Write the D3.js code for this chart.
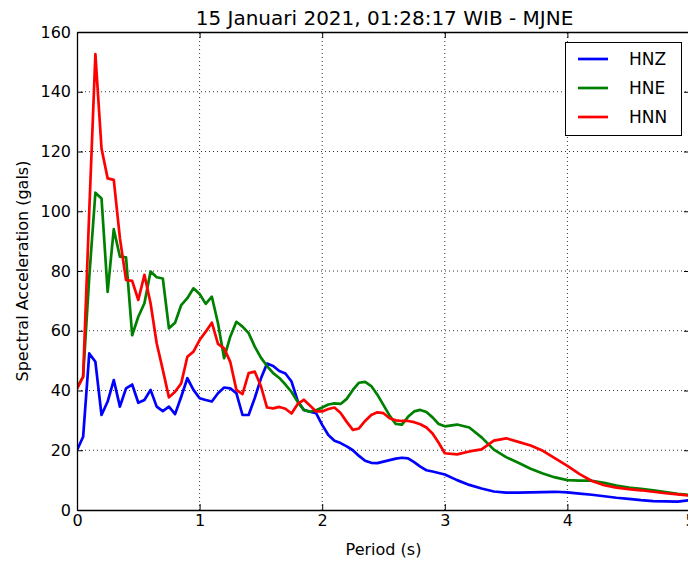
<!DOCTYPE html>
<html>
<head>
<meta charset="utf-8">
<script src="https://cdn.jsdelivr.net/npm/d3@7"></script>
<style>
  body { margin: 0; background: #fff; }
  svg { display: block; font-family: "DejaVu Sans", sans-serif; }
</style>
</head>
<body>
<script>
var W = 688, H = 561;
var margin = { top: 32, right: -2, bottom: 51, left: 77 };

// periods (s)
var periods = [
  0, 0.05, 0.1, 0.15, 0.2, 0.25, 0.3, 0.35, 0.4, 0.45,
  0.5, 0.55, 0.6, 0.65, 0.7, 0.75, 0.8, 0.85, 0.9, 0.95,
  1.0, 1.05, 1.1, 1.15, 1.2, 1.25, 1.3, 1.35, 1.4, 1.45,
  1.5, 1.55, 1.6, 1.65, 1.7, 1.75, 1.8, 1.85, 1.9, 1.95,
  2.0, 2.05, 2.1, 2.15, 2.2, 2.25, 2.3, 2.35, 2.4, 2.45,
  2.5, 2.55, 2.6, 2.65, 2.7, 2.75, 2.8, 2.85, 2.9, 2.95,
  3.0,
  3.1, 3.2, 3.3, 3.4, 3.5, 3.6, 3.7, 3.8, 3.9, 4.0,
  4.1, 4.2, 4.3, 4.4, 4.5, 4.6, 4.7, 4.8, 4.9, 5.0
];

var hnz = [
  20, 24.5, 52.4, 49.6, 31.8, 36.3, 43.5, 34.6, 40.7, 42,
  35.9, 36.8, 40.2, 34.6, 33.1, 34.6, 32.1, 37.9, 44.1, 40.2,
  37.4, 36.8, 36.3, 39.1, 41, 40.7, 39.1, 31.8, 31.8, 37.5,
  44, 49, 48.2, 46.5, 45.7, 43, 36.5, 33.5, 32.9, 32.4,
  28.5, 25.1, 23.2, 22.4, 21.3, 20, 18.1, 16.5, 15.8, 15.7,
  16.2, 16.7, 17.2, 17.5, 17.3, 16, 14.5, 13.3, 12.9, 12.4,
  11.9,
  10.0, 8.4, 7.2, 6.2, 5.8, 5.8, 5.9, 6.0, 6.1, 5.9,
  5.5, 5.1, 4.6, 4.1, 3.7, 3.3, 3.0, 2.9, 2.8, 3.3
];

var hne = [
  41, 44.6, 78, 106.2, 104.3, 73, 94, 84.8, 84.6, 58.5,
  64.7, 69.2, 79.8, 77.9, 77.5, 60.8, 62.7, 68.6, 70.9, 74.2,
  72.3, 69, 71.4, 62.5, 50.8, 58, 63, 61.4, 59.2, 54.7,
  51, 48.2, 45.8, 44.2, 42, 39.5, 36.2, 33.5, 32.9, 33.4,
  34.3, 35.3, 35.7, 35.5, 37.2, 40.2, 42.6, 42.9, 41.5, 38.6,
  35.1, 31.6, 28.8, 28.6, 31.2, 33, 33.5, 32.8, 31, 28.8,
  28.0,
  28.6, 27.6, 24.3, 20.2, 17.7, 15.8, 13.8, 12.2, 10.9, 10.0,
  9.8, 9.8, 9.1, 8.2, 7.5, 7.1, 6.6, 6.0, 5.4, 5.0
];

var hnn = [
  40.5, 44.6, 100, 152.6, 121, 111, 110.5, 91, 77, 76.7,
  70.3, 78.7, 69.2, 55.8, 46.9, 37.7, 39.6, 42.4, 51.3, 53,
  56.9, 59.7, 62.7, 55.6, 54.1, 49.6, 40.2, 38.8, 45.8, 46.3,
  41.5, 34.3, 34, 34.5, 33.9, 32.3, 35.5, 36.9, 35, 33,
  33, 33.8, 34.3, 32.5, 29.5, 26.8, 27.3, 29.8, 31.8, 32.7,
  32.4, 30.7, 30, 29.8, 29.8, 29.4, 28.7, 27.6, 25.6, 22.5,
  19,
  18.6, 19.6, 20.3, 23.2, 24, 22.8, 21.6, 19.8, 17.3, 14.8,
  12, 9.7, 8.3, 7.5, 7, 6.6, 6.1, 5.6, 5.2, 4.8
];

var seriesNames = ["HNZ", "HNE", "HNN"];
var seriesColors = ["#0000ff", "#008000", "#ff0000"];
var xTicks = [0, 1, 2, 3, 4, 5];
var yTicks = [0, 20, 40, 60, 80, 100, 120, 140, 160];
var title = "15 Januari 2021, 01:28:17 WIB - MJNE";

var series = [hnz, hne, hnn];

var x0 = margin.left, x1 = W - margin.right;
var y0 = H - margin.bottom, y1 = margin.top;

var x = d3.scaleLinear().domain([0, 5]).range([x0, x1]);
var y = d3.scaleLinear().domain([0, 160]).range([y0, y1]);

var svg = d3.select("body").append("svg")
  .attr("width", W)
  .attr("height", H);

// dotted grid
var grid = svg.append("g")
  .attr("stroke", "#000")
  .attr("stroke-width", 0.8)
  .attr("stroke-dasharray", "1,3");
grid.selectAll("line.gx")
  .data(xTicks.slice(1, -1))
  .enter().append("line")
  .attr("x1", function(d) { return x(d); })
  .attr("x2", function(d) { return x(d); })
  .attr("y1", y0).attr("y2", y1);
grid.selectAll("line.gy")
  .data(yTicks.slice(1, -1))
  .enter().append("line")
  .attr("x1", x0).attr("x2", x1)
  .attr("y1", function(d) { return y(d); })
  .attr("y2", function(d) { return y(d); });

// lines
svg.append("clipPath").attr("id", "plot")
  .append("rect")
  .attr("x", x0).attr("y", y1)
  .attr("width", x1 - x0).attr("height", y0 - y1);

var line = d3.line()
  .x(function(d, i) { return x(periods[i]); })
  .y(function(d) { return y(d); });

svg.append("g")
  .attr("clip-path", "url(#plot)")
  .selectAll("path")
  .data(series)
  .enter().append("path")
  .attr("d", line)
  .attr("fill", "none")
  .attr("stroke", function(d, i) { return seriesColors[i]; })
  .attr("stroke-width", 2.7)
  .attr("stroke-linejoin", "round")
  .attr("stroke-linecap", "round");

// axes, ticks pointing inward
var axB = svg.append("g")
  .attr("transform", "translate(0," + y0 + ")")
  .call(d3.axisBottom(x).tickValues(xTicks).tickSize(-6).tickSizeOuter(0).tickPadding(5)
    .tickFormat(d3.format("d")));
var axL = svg.append("g")
  .attr("transform", "translate(" + x0 + ",0)")
  .call(d3.axisLeft(y).tickValues(yTicks).tickSize(-6).tickSizeOuter(0).tickPadding(6)
    .tickFormat(d3.format("d")));
var axT = svg.append("g")
  .attr("transform", "translate(0," + y1 + ")")
  .call(d3.axisTop(x).tickValues(xTicks).tickSize(-6).tickSizeOuter(0).tickFormat(""));
var axR = svg.append("g")
  .attr("transform", "translate(" + x1 + ",0)")
  .call(d3.axisRight(y).tickValues(yTicks).tickSize(-6).tickSizeOuter(0).tickFormat(""));

[axB, axL, axT, axR].forEach(function(g) {
  g.selectAll(".domain").attr("stroke", "#000").attr("stroke-width", 1.3);
  g.selectAll(".tick line").attr("stroke", "#000").attr("stroke-width", 1);
  g.selectAll("text")
    .attr("font-family", "DejaVu Sans, sans-serif")
    .attr("font-size", 16)
    .attr("fill", "#000");
});

// title and labels
svg.append("text")
  .attr("x", (x0 + x1) / 2 + 1)
  .attr("y", 25)
  .attr("text-anchor", "middle")
  .attr("font-size", 20)
  .text(title);

svg.append("text")
  .attr("x", (x0 + x1) / 2)
  .attr("y", 555)
  .attr("text-anchor", "middle")
  .attr("font-size", 16)
  .text("Period (s)");

svg.append("text")
  .attr("transform", "translate(22," + ((y0 + y1) / 2) + ") rotate(-90)")
  .attr("dy", "0.35em")
  .attr("text-anchor", "middle")
  .attr("font-size", 16)
  .text("Spectral Acceleration (gals)");

// legend
var legend = svg.append("g");
legend.append("rect")
  .attr("x", 565.5).attr("y", 42.5)
  .attr("width", 116).attr("height", 93)
  .attr("fill", "#fff")
  .attr("stroke", "#000")
  .attr("stroke-width", 1);
var items = legend.selectAll("g.item")
  .data(seriesNames)
  .enter().append("g")
  .attr("transform", function(d, i) { return "translate(0," + (59 + i * 29) + ")"; });
items.append("line")
  .attr("x1", 578).attr("x2", 608)
  .attr("stroke", function(d, i) { return seriesColors[i]; })
  .attr("stroke-width", 2.7);
items.append("text")
  .attr("x", 629)
  .attr("dy", "0.36em")
  .attr("font-size", 17)
  .text(function(d) { return d; });
</script>
</body>
</html>
